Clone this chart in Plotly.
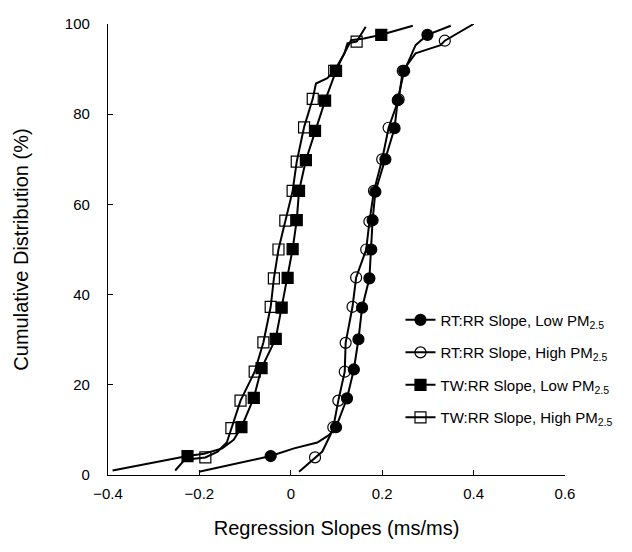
import plotly.graph_objects as go

# ---- data ----
# RT:RR slope, low PM2.5 (filled circles)
rt_low_x = [-0.201, -0.044, 0.007, 0.058, 0.084, 0.099, 0.123, 0.138, 0.148, 0.156, 0.172, 0.176,
            0.179, 0.185, 0.207, 0.227, 0.234, 0.248, 0.262, 0.273, 0.299, 0.350]
rt_low_y = [0.7, 4.2, 5.9, 7.2, 8.9, 10.6, 17.0, 23.4, 30.1, 37.1, 43.6, 50.0,
            56.5, 62.8, 70.0, 76.9, 83.1, 89.6, 92.7, 95.3, 97.6, 99.6]
rt_low_mx = [-0.044, 0.099, 0.123, 0.138, 0.148, 0.156, 0.172, 0.176, 0.179, 0.185, 0.207, 0.227,
             0.234, 0.248, 0.299]
rt_low_my = [4.2, 10.6, 17.0, 23.4, 30.1, 37.1, 43.6, 50.0, 56.5, 62.8, 70.0, 76.9, 83.1, 89.6, 97.6]

# RT:RR slope, high PM2.5 (open circles)
rt_high_x = [0.018, 0.053, 0.069, 0.088, 0.093, 0.104, 0.118, 0.120, 0.135, 0.143, 0.165, 0.172,
             0.182, 0.200, 0.214, 0.236, 0.240, 0.245, 0.255, 0.273, 0.306, 0.328, 0.337, 0.400]
rt_high_y = [0.7, 3.9, 5.2, 9.2, 10.6, 16.5, 22.9, 29.3, 37.3, 43.8, 50.0, 56.2,
             63.0, 70.0, 77.0, 83.3, 86.0, 89.6, 91.0, 93.5, 94.6, 95.3, 96.3, 100.0]
rt_high_mx = [0.053, 0.093, 0.104, 0.118, 0.120, 0.135, 0.143, 0.165, 0.172, 0.182, 0.200, 0.214,
              0.236, 0.245, 0.337]
rt_high_my = [3.9, 10.6, 16.5, 22.9, 29.3, 37.3, 43.8, 50.0, 56.2, 63.0, 70.0, 77.0, 83.3, 89.6, 96.3]

# TW:RR slope, low PM2.5 (filled squares)
tw_low_x = [-0.39, -0.226, -0.19, -0.15, -0.125, -0.108, -0.081, -0.064, -0.033, -0.020, -0.007,
            0.004, 0.013, 0.018, 0.033, 0.053, 0.075, 0.099, 0.113, 0.132, 0.160, 0.198, 0.267]
tw_low_y = [1.0, 4.2, 4.7, 5.9, 7.8, 10.6, 17.1, 23.7, 30.2, 37.1, 43.7,
            50.1, 56.5, 63.0, 69.8, 76.3, 83.0, 89.6, 92.7, 96.4, 96.8, 97.6, 99.6]
tw_low_mx = [-0.226, -0.108, -0.081, -0.064, -0.033, -0.020, -0.007, 0.004, 0.013, 0.018, 0.033,
             0.053, 0.075, 0.099, 0.198]
tw_low_my = [4.2, 10.6, 17.1, 23.7, 30.2, 37.1, 43.7, 50.1, 56.5, 63.0, 69.8, 76.3, 83.0, 89.6, 97.6]

# TW:RR slope, high PM2.5 (open squares)
tw_high_x = [-0.253, -0.232, -0.187, -0.16, -0.14, -0.130, -0.110, -0.079, -0.060, -0.044, -0.037,
             -0.027, -0.012, 0.004, 0.013, 0.029, 0.048, 0.055, 0.080, 0.095, 0.117, 0.124, 0.144, 0.164]
tw_high_y = [1.0, 3.4, 3.9, 5.2, 7.2, 10.4, 16.5, 22.9, 29.4, 37.3, 43.6,
             50.0, 56.4, 63.0, 69.5, 77.1, 83.4, 86.8, 88.0, 89.6, 93.4, 95.7, 96.1, 99.4]
tw_high_mx = [-0.187, -0.130, -0.110, -0.079, -0.060, -0.044, -0.037, -0.027, -0.012, 0.004, 0.013,
              0.029, 0.048, 0.095, 0.144]
tw_high_my = [3.9, 10.4, 16.5, 22.9, 29.4, 37.3, 43.6, 50.0, 56.4, 63.0, 69.5, 77.1, 83.4, 89.6, 96.1]

x_ticks = [-0.4, -0.2, 0, 0.2, 0.4, 0.6]
y_ticks = [0, 20, 40, 60, 80, 100]

series = [
    ("RT:RR Slope, Low PM<sub>2.5</sub>", rt_low_x, rt_low_y, rt_low_mx, rt_low_my, "circle"),
    ("RT:RR Slope, High PM<sub>2.5</sub>", rt_high_x, rt_high_y, rt_high_mx, rt_high_my, "circle-open"),
    ("TW:RR Slope, Low PM<sub>2.5</sub>", tw_low_x, tw_low_y, tw_low_mx, tw_low_my, "square"),
    ("TW:RR Slope, High PM<sub>2.5</sub>", tw_high_x, tw_high_y, tw_high_mx, tw_high_my, "square-open"),
]

FONT = "Liberation Sans, Arial, Helvetica, sans-serif"
MS = 11

fig = go.Figure()
for i, (name, cx, cy, mx, my, sym) in enumerate(series):
    grp = "g%d" % i
    fig.add_trace(go.Scatter(
        x=cx, y=cy, mode="lines", line=dict(color="black", width=2),
        showlegend=False, legendgroup=grp, hoverinfo="skip"))
    fig.add_trace(go.Scatter(
        x=mx, y=my, mode="markers",
        marker=dict(symbol=sym, size=MS, color="black", line=dict(color="black", width=1.2)),
        showlegend=False, legendgroup=grp))
    # legend entry (line + marker)
    fig.add_trace(go.Scatter(
        x=[None], y=[None], mode="lines+markers", name=name, legendgroup=grp,
        line=dict(color="black", width=2),
        marker=dict(symbol=sym, size=MS, color="black", line=dict(color="black", width=1.2))))

# the page body adds an 8px offset, so margins are shifted by that amount
fig.update_layout(
    width=632, height=552,
    margin=dict(l=100, r=75, t=16, b=85),
    plot_bgcolor="white", paper_bgcolor="white",
    font=dict(family=FONT, size=15, color="black"),
    showlegend=True,
    legend=dict(x=0.64, y=0.38, xanchor="left", yanchor="top",
                bgcolor="rgba(0,0,0,0)", font=dict(size=15),
                tracegroupgap=10, itemwidth=30),
    xaxis=dict(range=[-0.4, 0.6], tickvals=x_ticks, showgrid=False, zeroline=False,
               showline=True, linecolor="black", linewidth=1.3, automargin=False,
               ticks="inside", ticklen=5, tickwidth=1, tickcolor="black",
               ticklabelstandoff=5,
               title=dict(text="Regression Slopes (ms/ms)", font=dict(size=20), standoff=19)),
    yaxis=dict(range=[0, 100], tickvals=y_ticks, showgrid=False, zeroline=False,
               showline=True, linecolor="black", linewidth=1.3, automargin=False,
               ticks="inside", ticklen=5, tickwidth=1, tickcolor="black",
               ticklabelstandoff=14,
               title=dict(text="Cumulative Distribution (%)", font=dict(size=20), standoff=30)),
)

fig.write_html("out.html")
